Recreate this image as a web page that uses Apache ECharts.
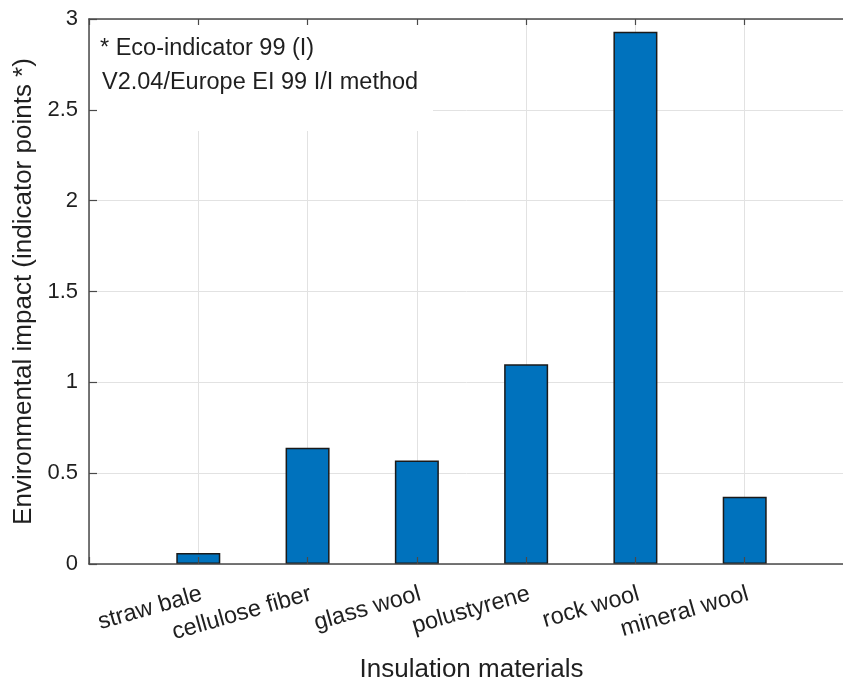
<!DOCTYPE html>
<html>
<head>
<meta charset="utf-8">
<script src="https://cdn.jsdelivr.net/npm/echarts@6/dist/echarts.min.js"></script>
<style>
  html, body { margin: 0; padding: 0; background: #ffffff; }
  #chart { width: 843px; height: 684px; }
</style>
</head>
<body>
<div id="chart"></div>
<script>
// ---- data ----
const categories = ['straw bale', 'cellulose fiber', 'glass wool', 'polustyrene', 'rock wool', 'mineral wool'];
const impactValues = [0.06, 0.64, 0.57, 1.10, 2.93, 0.37];
const yMin = 0;
const yMax = 3;
const yInterval = 0.5;
const xTitle = 'Insulation materials';
const yTitle = 'Environmental impact (indicator points *)';
const noteLine1 = '* Eco-indicator 99 (I)';
const noteLine2 = 'V2.04/Europe EI 99 I/I method';

// ---- chart ----
const FONT = '"Liberation Sans", Arial, Helvetica, sans-serif';
const TXT = '#1f1f1f';
const AXIS = '#4a4a4a';
const GRIDC = '#e2e2e2';
const xMin = 0;
const xMax = categories.length + 1;

const barData = categories.map((c, i) => [i + 1, impactValues[i]]);
const catLabel = v => (v >= 1 && v <= categories.length) ? categories[v - 1] : '';

const chart = echarts.init(document.getElementById('chart'), null, { renderer: 'canvas' });

const baseX = {
  type: 'value', min: xMin, max: xMax, interval: 1
};
const baseY = {
  type: 'value', min: yMin, max: yMax, interval: yInterval
};

chart.setOption({
  backgroundColor: '#ffffff',
  animation: false,
  grid: { left: 89, top: 19, width: 765, bottom: 120, containLabel: false, outerBoundsMode: 'none' },
  xAxis: [
    Object.assign({}, baseX, {
      position: 'bottom', z: 0,
      axisLine: { show: false, onZero: false },
      axisTick: { show: false },
      axisLabel: { show: false },
      splitLine: { show: true, lineStyle: { color: GRIDC, width: 1 } }
    }),
    Object.assign({}, baseX, {
      position: 'bottom', z: 3,
      axisLine: { show: true, onZero: false, lineStyle: { color: AXIS, width: 1.5 } },
      axisTick: { show: true, inside: true, length: 7, lineStyle: { color: AXIS, width: 1.2 } },
      axisLabel: {
        show: true, rotate: 16, margin: 18, align: 'right', verticalAlign: 'top',
        fontFamily: FONT, fontSize: 23.5, color: TXT,
        formatter: v => catLabel(v)
      },
      splitLine: { show: false },
      name: xTitle, nameLocation: 'middle', nameGap: 93,
      nameTextStyle: { fontFamily: FONT, fontSize: 26, color: TXT }
    }),
    Object.assign({}, baseX, {
      position: 'top', z: 3,
      axisLine: { show: true, onZero: false, lineStyle: { color: AXIS, width: 1.5 } },
      axisTick: { show: true, inside: true, length: 6, lineStyle: { color: AXIS, width: 1.2 } },
      axisLabel: { show: false },
      splitLine: { show: false }
    })
  ],
  yAxis: [
    Object.assign({}, baseY, {
      position: 'left', z: 0,
      axisLine: { show: false, onZero: false },
      axisTick: { show: false },
      axisLabel: { show: false },
      splitLine: { show: true, lineStyle: { color: GRIDC, width: 1 } }
    }),
    Object.assign({}, baseY, {
      position: 'left', z: 3,
      axisLine: { show: true, onZero: false, lineStyle: { color: AXIS, width: 1.5 } },
      axisTick: { show: true, inside: true, length: 8, lineStyle: { color: AXIS, width: 1.2 } },
      axisLabel: { show: true, margin: 11, fontFamily: FONT, fontSize: 22, color: TXT },
      splitLine: { show: false },
      name: yTitle, nameLocation: 'middle', nameGap: 51,
      nameTextStyle: { fontFamily: FONT, fontSize: 26, color: TXT }
    })
  ],
  series: [{
    type: 'bar',
    xAxisIndex: 0,
    yAxisIndex: 0,
    z: 2,
    barWidth: 44,
    data: barData,
    itemStyle: { color: '#0072BD', borderColor: '#1a1a1a', borderWidth: 1.5 }
  }],
  graphic: [
    {
      type: 'rect', z: 1, silent: true,
      shape: { x: 90, y: 20, width: 343, height: 111 },
      style: { fill: '#ffffff' }
    },
    {
      type: 'text', z: 4, silent: true,
      x: 100, y: 49,
      style: { text: noteLine1, fontFamily: FONT, fontSize: 23.5, fill: TXT, verticalAlign: 'middle' }
    },
    {
      type: 'text', z: 4, silent: true,
      x: 102, y: 83,
      style: { text: noteLine2, fontFamily: FONT, fontSize: 23.5, fill: TXT, verticalAlign: 'middle' }
    }
  ]
});
</script>
</body>
</html>
